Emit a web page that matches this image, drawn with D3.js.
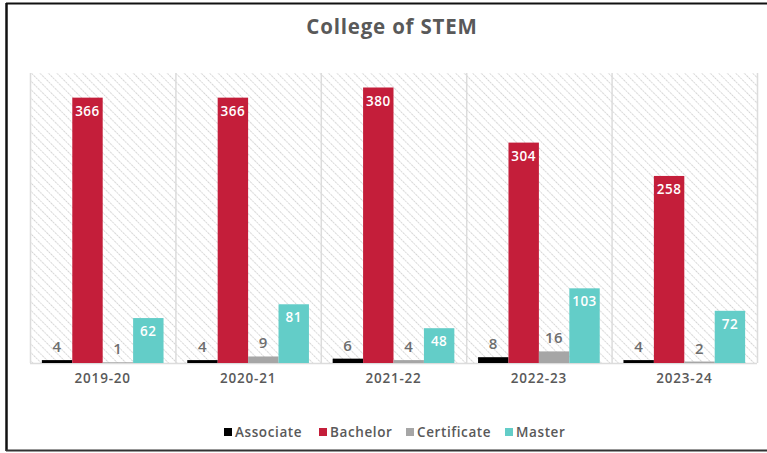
<!DOCTYPE html>
<html>
<head>
<meta charset="utf-8">
<script src="https://cdn.jsdelivr.net/npm/d3@7"></script>
<style>
  html, body { margin: 0; padding: 0; background: #fff; }
  svg { display: block; font-family: "Open Sans", Lato, sans-serif; }
</style>
</head>
<body>
<svg id="chart" width="767" height="453"></svg>
<script>
// Degrees awarded, College of STEM
const years = ["2019-20", "2020-21", "2021-22", "2022-23", "2023-24"];
const degrees = ["Associate", "Bachelor", "Certificate", "Master"];
const associate = [4, 4, 6, 8, 4];
const bachelor = [366, 366, 380, 304, 258];
const certificate = [1, 9, 4, 16, 2];
const master = [62, 81, 48, 103, 72];
const colors = ["#000000", "#c41e3a", "#a6a6a6", "#63cdc8"];

const seriesByDegree = [associate, bachelor, certificate, master];
const rows = years.map((y, i) => ({
  year: y,
  values: degrees.map((d, k) => ({ degree: d, value: seriesByDegree[k][i], color: colors[k] }))
}));

const svg = d3.select("#chart");
const W = 767, H = 453;
const plot = { left: 30, right: 757, top: 73, bottom: 363 };

// Frame lines
svg.append("line").attr("x1", 6).attr("x2", W).attr("y1", 3.5).attr("y2", 3.5)
  .attr("stroke", "#111").attr("stroke-width", 2);
svg.append("line").attr("x1", 6.5).attr("x2", 6.5).attr("y1", 3).attr("y2", 451)
  .attr("stroke", "#111").attr("stroke-width", 2.5);
svg.append("line").attr("x1", 6).attr("x2", W).attr("y1", 450.5).attr("y2", 450.5)
  .attr("stroke", "#333").attr("stroke-width", 2);

// Hatched plot background (lines running top-left to bottom-right)
const defs = svg.append("defs");
const pat = defs.append("pattern").attr("id", "hatch")
  .attr("patternUnits", "userSpaceOnUse").attr("width", 6).attr("height", 6)
  .attr("patternTransform", "rotate(-45)");
pat.append("line").attr("x1", 0).attr("x2", 0).attr("y1", 0).attr("y2", 6)
  .attr("stroke", "#cfcfcf").attr("stroke-width", 1.8).attr("stroke-dasharray", "1.6,1");

const x0 = d3.scaleBand().domain(years).range([plot.left, plot.right]).padding(0);
const x1 = d3.scaleBand().domain(degrees).range([0, x0.bandwidth()])
  .paddingInner(0).paddingOuter(0.39);
const y = d3.scaleLinear().domain([0, 400]).range([plot.bottom, plot.top]);

svg.append("rect").attr("x", plot.left).attr("y", plot.top)
  .attr("width", plot.right - plot.left).attr("height", plot.bottom - plot.top)
  .attr("fill", "url(#hatch)");

// Group separators
const seps = years.map(yr => x0(yr)).concat([plot.right]);
svg.append("g").selectAll("line").data(seps).join("line")
  .attr("x1", d => d + 0.5).attr("x2", d => d + 0.5)
  .attr("y1", plot.top).attr("y2", plot.bottom)
  .attr("stroke", "#dcdcdc").attr("stroke-width", 1.5);
svg.append("line").attr("x1", plot.left).attr("x2", plot.right)
  .attr("y1", plot.bottom + 0.5).attr("y2", plot.bottom + 0.5)
  .attr("stroke", "#dcdcdc").attr("stroke-width", 1.5);

// Bars
const groups = svg.append("g").selectAll("g").data(rows).join("g")
  .attr("transform", d => `translate(${x0(d.year)},0)`);

groups.selectAll("rect").data(d => d.values).join("rect")
  .attr("x", d => x1(d.degree))
  .attr("y", d => y(d.value))
  .attr("width", x1.bandwidth())
  .attr("height", d => y(0) - y(d.value))
  .attr("fill", d => d.color);

// Value labels: inside the bar when tall enough, otherwise above it
const inside = d => (y(0) - y(d.value) > 28);
groups.selectAll("text.val").data(d => d.values).join("text")
  .attr("class", "val")
  .attr("x", d => x1(d.degree) + x1.bandwidth() / 2)
  .attr("y", d => inside(d) ? y(d.value) + 18 : y(d.value) - 8)
  .attr("text-anchor", "middle")
  .attr("font-size", d => inside(d) ? 13.5 : 15)
  .attr("font-weight", 600)
  .attr("letter-spacing", 0.5)
  .attr("fill", d => inside(d) ? "#ffffff" : "#6e6e6e")
  .text(d => d.value);

// X axis labels
const xAxis = d3.axisBottom(x0).tickSize(0).tickPadding(10);
const gx = svg.append("g").attr("transform", `translate(0,${plot.bottom})`).call(xAxis);
gx.select(".domain").remove();
gx.selectAll("text")
  .attr("font-family", "\"Open Sans\", Lato, sans-serif")
  .attr("font-size", 13.5).attr("font-weight", 600).attr("fill", "#595959")
  .attr("letter-spacing", 0.8);

// Title
svg.append("text").attr("x", 392).attr("y", 34).attr("text-anchor", "middle")
  .attr("font-size", 20.5).attr("font-weight", 700).attr("fill", "#595959")
  .attr("letter-spacing", 0.8)
  .text("College of STEM");

// Legend
const legendX = [224, 319, 406, 505];
const lg = svg.append("g").selectAll("g").data(degrees).join("g")
  .attr("transform", (d, i) => `translate(${legendX[i]},432)`);
lg.append("rect").attr("x", 0).attr("y", -4).attr("width", 8).attr("height", 8)
  .attr("fill", (d, i) => colors[i]);
lg.append("text").attr("x", 11).attr("y", 5)
  .attr("font-size", 13.5).attr("font-weight", 600).attr("fill", "#595959")
  .attr("letter-spacing", 0.6)
  .text(d => d);
</script>
</body>
</html>
